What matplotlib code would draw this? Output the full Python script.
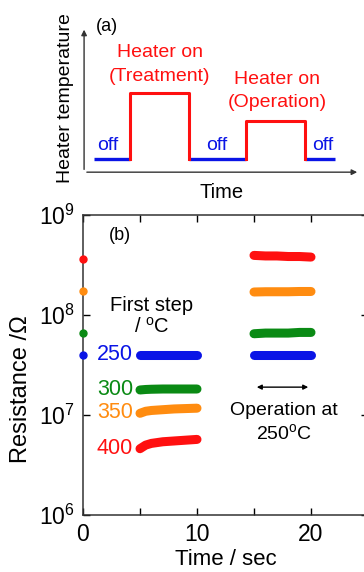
import numpy as np
import matplotlib
matplotlib.use("Agg")
import matplotlib.pyplot as plt

plt.rcParams['font.family'] = ['Liberation Sans', 'DejaVu Sans']
plt.rcParams['mathtext.default'] = 'regular'

# panel (a): schematic heater schedule
off_segments = [(0.43, 2.0), (4.57, 7.04), (9.6, 10.9)]
on_treat_t = [2.0, 2.0, 4.57, 4.57]
on_oper_t = [7.04, 7.04, 9.6, 9.6]
off_level = 0.9
treat_level = 5.45
oper_level = 3.5

# panel (b): resistance data
temps = ["250", "300", "350", "400"]
colors = ["#0a14e6", "#0a8a14", "#ff8c10", "#ff1010"]
start_R = [4.0e7, 6.6e7, 1.74e8, 3.6e8]
step_t = [5.0, 5.5, 6.0, 7.0, 8.0, 9.0, 10.0]
step_R = [
    [4.0e7, 4.0e7, 4.0e7, 4.0e7, 4.0e7, 4.0e7, 4.0e7],
    [1.78e7, 1.80e7, 1.81e7, 1.82e7, 1.82e7, 1.82e7, 1.82e7],
    [1.04e7, 1.09e7, 1.11e7, 1.13e7, 1.15e7, 1.16e7, 1.17e7],
    [4.6e6, 5.0e6, 5.2e6, 5.4e6, 5.5e6, 5.6e6, 5.7e6],
]
oper_t = [15.0, 16.0, 17.0, 18.0, 19.0, 20.0]
oper_R = [
    [4.0e7, 4.0e7, 4.0e7, 4.0e7, 4.0e7, 4.0e7],
    [6.5e7, 6.6e7, 6.6e7, 6.6e7, 6.7e7, 6.7e7],
    [1.70e8, 1.71e8, 1.71e8, 1.71e8, 1.72e8, 1.72e8],
    [3.95e8, 3.9e8, 3.9e8, 3.85e8, 3.85e8, 3.8e8],
]
label_R = [4.0e7, 1.82e7, 1.05e7, 4.6e6]

fig = plt.figure(figsize=(3.64, 5.72), dpi=100)

# ---- (a)
axa = fig.add_axes([0.231, 0.699, 0.758, 0.254])
axa.set_xlim(0, 12)
axa.set_ylim(0, 10)
for s in axa.spines.values():
    s.set_visible(False)
axa.set_xticks([])
axa.set_yticks([])
axa.annotate("", xy=(1, 0), xytext=(0, 0), xycoords='axes fraction',
             arrowprops=dict(arrowstyle="-|>", color="#333333", lw=1.0, mutation_scale=8))
axa.annotate("", xy=(0, 1), xytext=(0, 0), xycoords='axes fraction',
             arrowprops=dict(arrowstyle="-|>", color="#333333", lw=1.0, mutation_scale=8))
for a, b in off_segments:
    axa.plot([a, b], [off_level, off_level], color="#0a14e6", lw=2.4, solid_capstyle='butt')
axa.plot(on_treat_t, [off_level, treat_level, treat_level, off_level], color="#ff1010", lw=2.2)
axa.plot(on_oper_t, [off_level, oper_level, oper_level, off_level], color="#ff1010", lw=2.2)
axa.text(1.0, 10.0, "(a)", fontsize=13, ha='center', va='center')
axa.text(3.3, 8.25, "Heater on", color="#ff1010", fontsize=14, ha='center', va='center')
axa.text(3.3, 6.6, "(Treatment)", color="#ff1010", fontsize=14, ha='center', va='center')
axa.text(8.4, 6.4, "Heater on", color="#ff1010", fontsize=14, ha='center', va='center')
axa.text(8.4, 4.8, "(Operation)", color="#ff1010", fontsize=14, ha='center', va='center')
for x in [1.05, 5.75, 10.4]:
    axa.text(x, 1.85, "off", color="#0a14e6", fontsize=14, ha='center', va='center')
axa.text(6.0, -1.4, "Time", fontsize=14.5, ha='center', va='center')
axa.text(-0.8, 5.1, "Heater temperature", fontsize=14, ha='center', va='center', rotation=90)

# ---- (b)
ax = fig.add_axes([0.228, 0.0997, 0.783, 0.5243])
ax.set_yscale('log')
ax.set_xlim(0, 25)
ax.set_ylim(1e6, 1e9)
for i in range(4):
    ax.plot(step_t, step_R[i], color=colors[i], lw=6.5, solid_capstyle='round')
    ax.plot(oper_t, oper_R[i], color=colors[i], lw=6.5, solid_capstyle='round')
    ax.plot([0], [start_R[i]], 'o', color=colors[i], ms=5, clip_on=False, zorder=5)
    ax.text(4.4, label_R[i], temps[i], color=colors[i], fontsize=15.5, ha='right', va='center')

ax.set_xticks([0, 10, 20])
ax.set_xticks([5, 15], minor=True)
ax.set_xticklabels(["0", "10", "20"], fontsize=16.5)
ax.set_yticks([1e6, 1e7, 1e8, 1e9])
ax.set_yticks([], minor=True)
ax.set_yticklabels(["$10^6$", "$10^7$", "$10^8$", "$10^9$"], fontsize=16.5)
ax.tick_params(which='both', direction='in', top=True, right=True, length=5, width=1, pad=6)
for s in ax.spines.values():
    s.set_linewidth(1.1)
    s.set_color("#333333")

ax.text(3.2, 6.3e8, "(b)", fontsize=13, ha='center', va='center')
ax.text(6.0, 1.25e8, "First step", fontsize=14.5, ha='center', va='center')
ax.text(6.0, 7.6e7, "/ $^o$C", fontsize=14.5, ha='center', va='center')
ax.annotate("", xy=(20, 1.9e7), xytext=(15, 1.9e7),
            arrowprops=dict(arrowstyle="<|-|>", color="black", lw=1.0, mutation_scale=7))
ax.text(17.6, 1.1e7, "Operation at", fontsize=14, ha='center', va='center')
ax.text(17.6, 6.6e6, "250$^o$C", fontsize=14, ha='center', va='center')
ax.set_xlabel("Time / sec", fontsize=16, labelpad=2)
ax.set_ylabel("Resistance /Ω", fontsize=17)
ax.yaxis.set_label_coords(-0.18, 0.42)

fig.savefig("out.png", dpi=100)
